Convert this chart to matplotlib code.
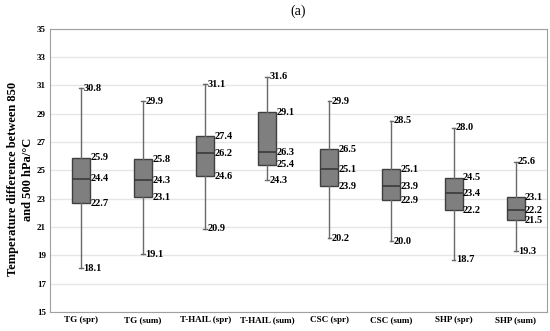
import matplotlib.pyplot as plt

categories = ["TG (spr)", "TG (sum)", "T-HAIL (spr)", "T-HAIL (sum)",
              "CSC (spr)", "CSC (sum)", "SHP (spr)", "SHP (sum)"]
whislo = [18.1, 19.1, 20.9, 24.3, 20.2, 20.0, 18.7, 19.3]
q1 = [22.7, 23.1, 24.6, 25.4, 23.9, 22.9, 22.2, 21.5]
med = [24.4, 24.3, 26.2, 26.3, 25.1, 23.9, 23.4, 22.2]
q3 = [25.9, 25.8, 27.4, 29.1, 26.5, 25.1, 24.5, 23.1]
whishi = [30.8, 29.9, 31.1, 31.6, 29.9, 28.5, 28.0, 25.6]

plt.rcParams['font.family'] = 'Liberation Serif'
plt.rcParams['font.weight'] = 'bold'

fig = plt.figure(figsize=(5.5, 3.31), dpi=100)
ax = fig.add_axes([0.091, 0.057, 0.903, 0.856])

stats = []
for i, c in enumerate(categories):
    stats.append(dict(label=c, whislo=whislo[i], q1=q1[i], med=med[i],
                      q3=q3[i], whishi=whishi[i], fliers=[]))

pos = list(range(1, len(categories) + 1))
ax.bxp(stats, positions=pos, widths=0.29, patch_artist=True, showfliers=False,
       boxprops=dict(facecolor='#7f7f7f', edgecolor='#3f3f3f', linewidth=1),
       medianprops=dict(color='#3a3a3a', linewidth=1.2),
       whiskerprops=dict(color='#6a6a6a', linewidth=1),
       capprops=dict(color='#6a6a6a', linewidth=1), capwidths=0.06)

# value labels
fs = 7.5
for i in range(len(categories)):
    x = pos[i]
    ax.text(x + 0.035, whishi[i], f"{whishi[i]:.1f}", va='center', ha='left', fontsize=fs)
    ax.text(x + 0.035, whislo[i], f"{whislo[i]:.1f}", va='center', ha='left', fontsize=fs)
    ax.text(x + 0.15, q3[i], f"{q3[i]:.1f}", va='center', ha='left', fontsize=fs)
    ax.text(x + 0.15, med[i], f"{med[i]:.1f}", va='center', ha='left', fontsize=fs)
    ax.text(x + 0.15, q1[i], f"{q1[i]:.1f}", va='center', ha='left', fontsize=fs)

ax.set_xlim(0.5, len(categories) + 0.5)
ax.set_ylim(15, 35)
ax.set_yticks(range(15, 36, 2))
ax.set_xticks(pos)
ax.set_xticklabels(categories, fontsize=6.5)
ax.tick_params(axis='y', labelsize=6.5, length=0, pad=3)
ax.tick_params(axis='x', length=0, pad=3)
ax.grid(axis='y', color='#e6e6e6', linewidth=1)
ax.set_axisbelow(True)
for s in ax.spines.values():
    s.set_color('#a0a0a0')

ax.set_ylabel("Temperature difference between 850\nand 500 hPa/\u00b0C", fontsize=9,
              fontweight='bold', linespacing=1.35)
ax.yaxis.set_label_coords(-0.032, 0.47)
ax.set_title("(a)", fontsize=10, fontweight='normal', pad=10)

fig.savefig("out.png", dpi=100)
